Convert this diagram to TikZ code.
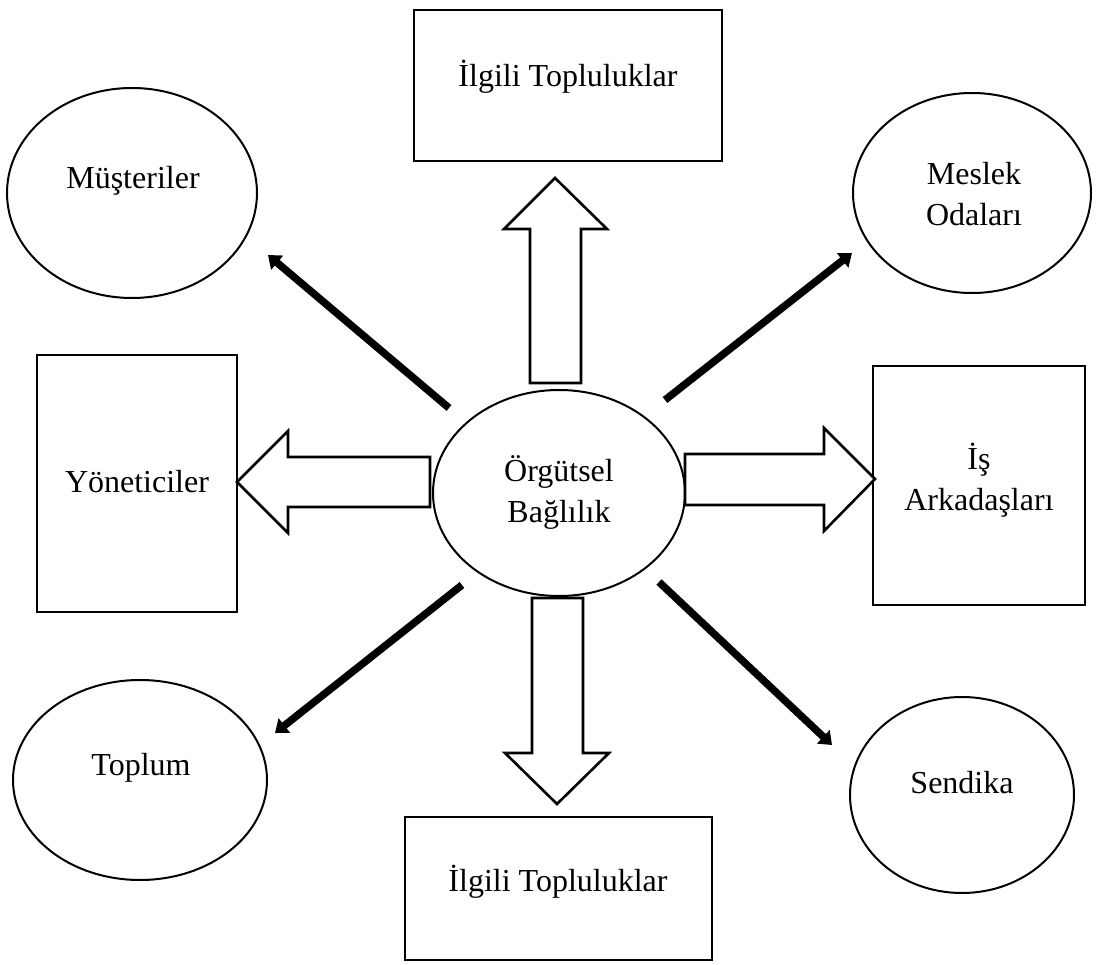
\documentclass[tikz,border=0pt]{standalone}
\usepackage{fontspec}
\setmainfont{Liberation Serif}
\usetikzlibrary{arrows.meta,shapes.geometric}
\begin{document}
\begin{tikzpicture}[x=1pt,y=-1pt,
  txt/.style={font=\fontsize{32}{41}\selectfont, align=center, inner sep=0pt},
  shapeline/.style={draw=black, line width=2pt},
  blockarrow/.style={draw=black, line width=2.6pt, fill=white, line join=miter},
  thickarrow/.style={draw=black, line width=7.5pt, -{Triangle[length=12pt,width=18pt]}}]
\useasboundingbox (0,0) rectangle (1101,965);
% boxes
\draw[shapeline] (414,10) rectangle (722,161);
\node[txt] (top) at (568,77) {İlgili Topluluklar};
\draw[shapeline] (405,817) rectangle (712,960);
\node[txt] (bot) at (558,882) {İlgili Topluluklar};
\draw[shapeline] (37,355) rectangle (237,612);
\node[txt] (yon) at (137,482) {Yöneticiler};
\draw[shapeline] (873,366) rectangle (1085,605);
\node[txt] (isa) at (979,480) {İş\\Arkadaşları};
% ellipses
\draw[shapeline] (559,493) ellipse [x radius=126, y radius=103];
\node[txt] (org) at (559,492) {Örgütsel\\Bağlılık};
\draw[shapeline] (132,193) ellipse [x radius=125, y radius=105];
\node[txt] (mus) at (133,181) {Müşteriler};
\draw[shapeline] (972,193) ellipse [x radius=119, y radius=100];
\node[txt] (mes) at (974,194) {Meslek\\Odaları};
\draw[shapeline] (140,780) ellipse [x radius=127, y radius=100];
\node[txt] (top2) at (141,768) {Toplum};
\draw[shapeline] (962,795) ellipse [x radius=112, y radius=98];
\node[txt] (sen) at (962,783) {Sendika};
% block arrows
\draw[blockarrow] (530,383) -- (581,383) -- (581,229) -- (607,229) -- (555,178) -- (504,229) -- (530,229) -- cycle;
\draw[blockarrow] (430,457) -- (430,507) -- (288,507) -- (288,533) -- (237,482) -- (288,431) -- (288,457) -- cycle;
\draw[blockarrow] (685,454) -- (824,454) -- (824,428) -- (875,479) -- (824,531) -- (824,505) -- (685,505) -- cycle;
\draw[blockarrow] (532,598) -- (583,598) -- (583,753) -- (609,753) -- (557,804) -- (505,753) -- (532,753) -- cycle;
% thick arrows
\coordinate (a1s) at (449,408); \coordinate (a1e) at (268,255);
\coordinate (a2s) at (665,400); \coordinate (a2e) at (852,253);
\coordinate (a3s) at (462,585); \coordinate (a3e) at (275,733);
\coordinate (a4s) at (659,582); \coordinate (a4e) at (832,745);
\draw[thickarrow] (a1s) -- (a1e);
\draw[thickarrow] (a2s) -- (a2e);
\draw[thickarrow] (a3s) -- (a3e);
\draw[thickarrow] (a4s) -- (a4e);
\end{tikzpicture}
\end{document}
